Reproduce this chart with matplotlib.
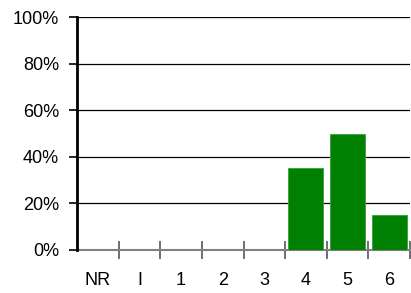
import matplotlib
matplotlib.use("Agg")
import matplotlib.pyplot as plt
from matplotlib import font_manager

categories = ["NR", "I", "1", "2", "3", "4", "5", "6"]
values = [0, 0, 0, 0, 0, 35, 50, 15]
yticks = [0, 20, 40, 60, 80, 100]
ylabels = ["0%", "20%", "40%", "60%", "80%", "100%"]

names = {f.name for f in font_manager.fontManager.ttflist}
fam = "Liberation Sans Narrow" if "Liberation Sans Narrow" in names else "Liberation Sans"
plt.rcParams['font.family'] = [fam, 'DejaVu Sans']

fig = plt.figure(figsize=(4.11, 2.93), dpi=100)
ax = fig.add_axes([77 / 411, 43 / 293, 333 / 411, 233 / 293])

x = list(range(len(categories)))
ax.bar(x, values, width=0.84, color="#008000", edgecolor="#3aa03a", linewidth=0.6, zorder=3)

ax.set_xlim(-0.5, 7.5)
ax.set_ylim(0, 100)

for y in yticks[1:]:
    ax.axhline(y, color="black", linewidth=0.9, zorder=1)

ax.set_yticks(yticks)
ax.set_yticklabels(ylabels, fontsize=13)
ax.tick_params(axis="y", direction="out", length=6, width=1.2, color="black", pad=7)

ax.set_xticks([i + 0.5 for i in range(len(categories))])
ax.set_xticklabels([])
ax.set_xticks(x, minor=True)
ax.set_xticklabels(categories, minor=True, fontsize=13)
ax.tick_params(axis="x", which="major", direction="inout", length=13, width=1.2, color="#555555")
ax.tick_params(axis="x", which="minor", length=0, pad=16)
for t in ax.xaxis.get_major_ticks():
    t.tick1line.set_clip_on(False)

ax.spines["top"].set_visible(False)
ax.spines["right"].set_visible(False)
ax.spines["left"].set_linewidth(2)
ax.spines["left"].set_color("black")
ax.spines["left"].set_zorder(4)
ax.spines["bottom"].set_linewidth(1.5)
ax.spines["bottom"].set_color("#808080")

fig.savefig("out.png", dpi=100)
